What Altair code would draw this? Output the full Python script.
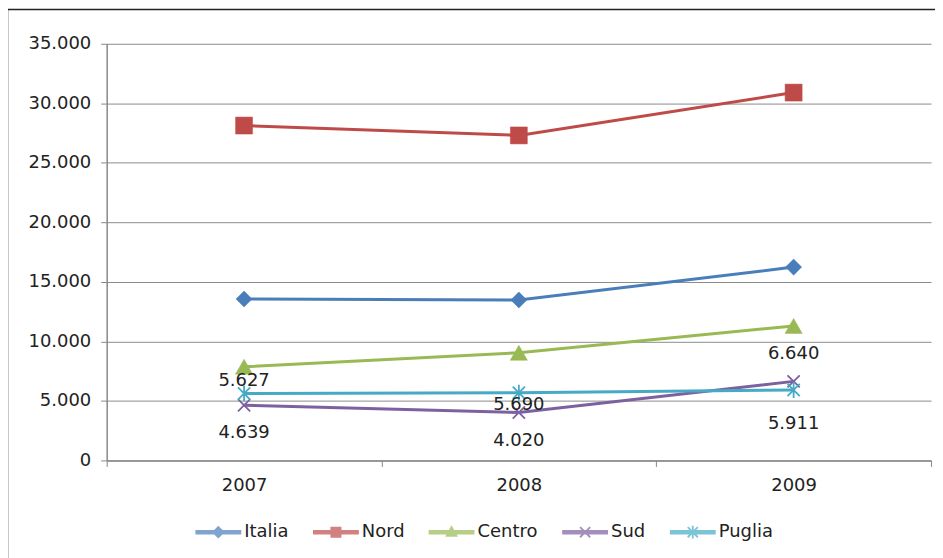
import math
import altair as alt
import pandas as pd

years = ["2007", "2008", "2009"]
series = ["Italia", "Nord", "Centro", "Sud", "Puglia"]
italia = [13560, 13480, 16240]
nord = [28130, 27300, 30900]
centro = [7870, 9040, 11300]
sud = [4639, 4020, 6640]
puglia = [5627, 5690, 5911]
y_ticks = [0, 5000, 10000, 15000, 20000, 25000, 30000, 35000]
colors = ["#4A7EBB", "#BE4B48", "#98B954", "#7D60A0", "#46AAC5"]

values = {"Italia": italia, "Nord": nord, "Centro": centro, "Sud": sud, "Puglia": puglia}
rows = []
for s in series:
    for y, v in zip(years, values[s]):
        rows.append({"series": s, "year": y, "value": v})
df = pd.DataFrame(rows)

# label placement (pixel offsets, styling only)
label_dy = {
    ("Puglia", "2007"): -12, ("Puglia", "2008"): 12, ("Puglia", "2009"): 34,
    ("Sud", "2007"): 28, ("Sud", "2008"): 29, ("Sud", "2009"): -27,
}


def poly(pts):
    a = 0.0
    for i in range(len(pts)):
        x1, y1 = pts[i]
        x2, y2 = pts[(i + 1) % len(pts)]
        a += x1 * y2 - x2 * y1
    if a < 0:
        pts = pts[::-1]
    return "M" + "L".join(f"{x:.3f},{y:.3f}" for x, y in pts) + "Z"


def seg(x1, y1, x2, y2, t):
    dx, dy = x2 - x1, y2 - y1
    L = math.hypot(dx, dy)
    nx, ny = -dy / L * t, dx / L * t
    return poly([(x1 + nx, y1 + ny), (x2 + nx, y2 + ny), (x2 - nx, y2 - ny), (x1 - nx, y1 - ny)])


line_p = poly([(-1, -0.1), (1, -0.1), (1, 0.1), (-1, 0.1)])
xs = seg(-0.22, -0.22, 0.22, 0.22, 0.04) + seg(-0.22, 0.22, 0.22, -0.22, 0.04)
legend_paths = [
    line_p + poly([(-0.28, 0), (0, -0.28), (0.28, 0), (0, 0.28)]),
    line_p + poly([(-0.24, -0.24), (0.24, -0.24), (0.24, 0.24), (-0.24, 0.24)]),
    line_p + poly([(0, -0.3), (0.28, 0.2), (-0.28, 0.2)]),
    line_p + xs,
    line_p + xs + seg(0, -0.28, 0, 0.28, 0.04),
]

marker_shape = {
    "Italia": ("diamond", 260, True),
    "Nord": ("square", 290, True),
    "Centro": ("triangle-up", 300, True),
    "Sud": ("M-1,-1L1,1M-1,1L1,-1", 150, False),
    "Puglia": ("M-1,-1L1,1M-1,1L1,-1M0,-1.3L0,1.3", 150, False),
}

FONT = "DejaVu Sans"
FS = 18

X = alt.X(
    "year:O", sort=years,
    scale=alt.Scale(type="band", paddingInner=0, paddingOuter=0),
    bandPosition=0.5,
    axis=alt.Axis(title=None, labelAngle=0, tickBand="extent", tickSize=6,
                  domainColor="#888888", tickColor="#888888", domainWidth=1.5,
                  labelFont=FONT, labelFontSize=FS, labelColor="#222222",
                  labelPadding=10, grid=False),
)
Y = alt.Y(
    "value:Q",
    scale=alt.Scale(domain=[0, 35000], nice=False),
    axis=alt.Axis(title=None, values=y_ticks,
                  labelExpr="replace(format(datum.value, ','), ',', '.')",
                  grid=True, gridColor="#8c8c8c", gridWidth=1,
                  domainColor="#888888", tickColor="#888888", domainWidth=1.5,
                  tickSize=6, labelFont=FONT, labelFontSize=FS,
                  labelColor="#222222", labelPadding=10),
)

base = alt.Chart(df).encode(x=X, y=Y)

layers = []
border = alt.Chart(alt.Data(values=[{"a": 1}])).mark_rect(
    fill="transparent", stroke="#222222", strokeWidth=1.5
).encode(x=alt.value(-99.5), x2=alt.value(950), y=alt.value(-34.5), y2=alt.value(700))
layers.append(border)

for s, c in zip(series, colors):
    layers.append(base.transform_filter(alt.datum.series == s).mark_line(color=c, strokeWidth=3))

for s, c in zip(series, colors):
    shp, size, filled = marker_shape[s]
    if filled:
        m = base.transform_filter(alt.datum.series == s).mark_point(
            shape=shp, size=size, filled=True, fill=c, stroke=c, strokeWidth=0.5, opacity=1)
    else:
        m = base.transform_filter(alt.datum.series == s).mark_point(
            shape=shp, size=size, filled=False, stroke=c, strokeWidth=1.8, opacity=1)
    layers.append(m)

leg = alt.Legend(title=None, orient="none", legendX=89, legendY=467, direction="horizontal",
                 symbolSize=2116, symbolStrokeWidth=0, labelFont=FONT, labelFontSize=FS,
                 labelColor="#222222", labelOffset=3, columnPadding=24)
legend_layer = base.transform_calculate(value="-10000").mark_point(
    filled=True, size=2116, clip=True
).encode(
    color=alt.Color("series:N", sort=series, scale=alt.Scale(domain=series, range=colors), legend=leg),
    shape=alt.Shape("series:N", sort=series, scale=alt.Scale(domain=series, range=legend_paths), legend=leg),
)
layers.append(legend_layer)

for (s, y), dy in label_dy.items():
    layers.append(
        base.transform_filter((alt.datum.series == s) & (alt.datum.year == y))
        .transform_calculate(label="replace(format(datum.value, ','), ',', '.')")
        .mark_text(dy=dy, font=FONT, fontSize=FS, color="#222222")
        .encode(text="label:N")
    )

chart = alt.layer(*layers).properties(
    width=827, height=418,
    autosize=alt.AutoSizeParams(type="none"),
    padding={"left": 99, "top": 35, "right": 4, "bottom": 97},
    background="white",
).configure_view(strokeWidth=0)

chart.save("out.html", embed_options={"renderer": "svg", "actions": False})
